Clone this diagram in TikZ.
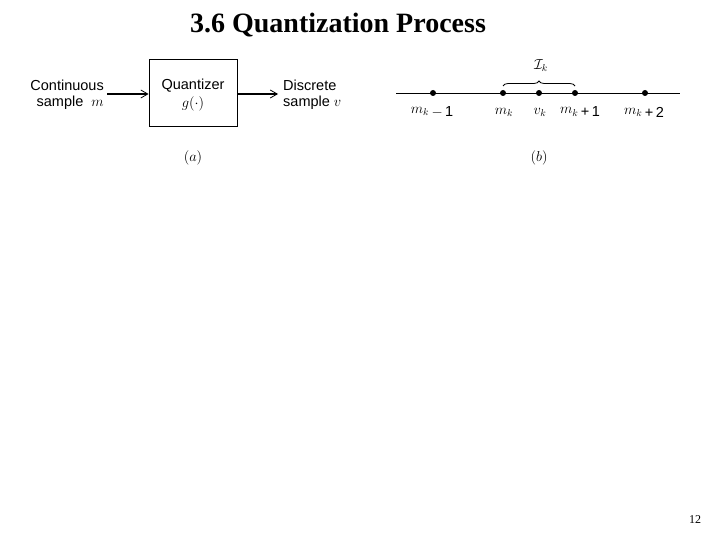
\documentclass[tikz,border=0pt]{standalone}
\usepackage{fontspec}
\setmainfont{Liberation Serif}
\setsansfont{Liberation Sans}
\usetikzlibrary{arrows.meta,decorations.pathreplacing}
\begin{document}
\begin{tikzpicture}[x=1pt,y=-1pt,
  lbl/.style={font=\sffamily\fontsize{14.5}{16}\selectfont, inner sep=0pt},
  dot/.style={circle, fill=black, inner sep=0pt, minimum size=6pt},
  sig/.style={line width=1.6pt, -{Straight Barb[length=7pt,width=8pt,line width=0.8pt]}}]
\useasboundingbox (0,0) rectangle (720,540);
\node[font=\bfseries\fontsize{28}{32}\selectfont] (title) at (338,25) {3.6 Quantization Process};
% (a)
\node[draw, line width=0.8pt, minimum width=88pt, minimum height=67pt, inner sep=0pt] (q) at (193,92.5) {};
\node[lbl] (qt) at (193,86) {Quantizer};
\node[lbl] (qg) at (193,104) {$g(\cdot)$};
\node[lbl, anchor=east] (c1) at (104,85) {Continuous};
\node[lbl, anchor=east] (c2) at (104,103) {sample~~$m$};
\node[lbl, anchor=west] (d1) at (283,85) {Discrete};
\node[lbl, anchor=west] (d2) at (283,103) {sample~$v$};
\coordinate (ain) at (107,94);
\coordinate (aout) at (278,94);
\draw[sig] (ain) -- (q.west |- ain);
\draw[sig] (q.east |- aout) -- (aout);
\node[lbl] (la) at (193,158) {$(a)$};
% (b)
\coordinate (l0) at (396,93);
\coordinate (l1) at (680,93);
\draw[line width=0.8pt] (l0) -- (l1);
\node[dot] (p1) at (433,93) {};
\node[dot] (p2) at (503,93) {};
\node[dot] (p3) at (539,93) {};
\node[dot] (p4) at (575,93) {};
\node[dot] (p5) at (645,93) {};
\node[lbl] (t1) at (432,112) {$m_k$\,\raisebox{-3pt}{$-$\,1}};
\node[lbl] (t2) at (504,112) {$m_k$};
\node[lbl] (t3) at (540,112) {$v_k$};
\node[lbl] (t4) at (580,112) {$m_k$\,\raisebox{-3pt}{+\,1}};
\node[lbl] (t5) at (644,112) {$m_k$\,\raisebox{-3pt}{+\,2}};
\draw[line width=0.8pt, decorate, decoration={brace, amplitude=5pt}] (503,86) -- (575,86);
\node[lbl] (jk) at (541,66) {$\mathcal{I}_k$};
\node[lbl] (lb) at (539,158) {$(b)$};
\node[font=\fontsize{12}{14}\selectfont] (pg) at (695,520) {12};
\end{tikzpicture}
\end{document}
